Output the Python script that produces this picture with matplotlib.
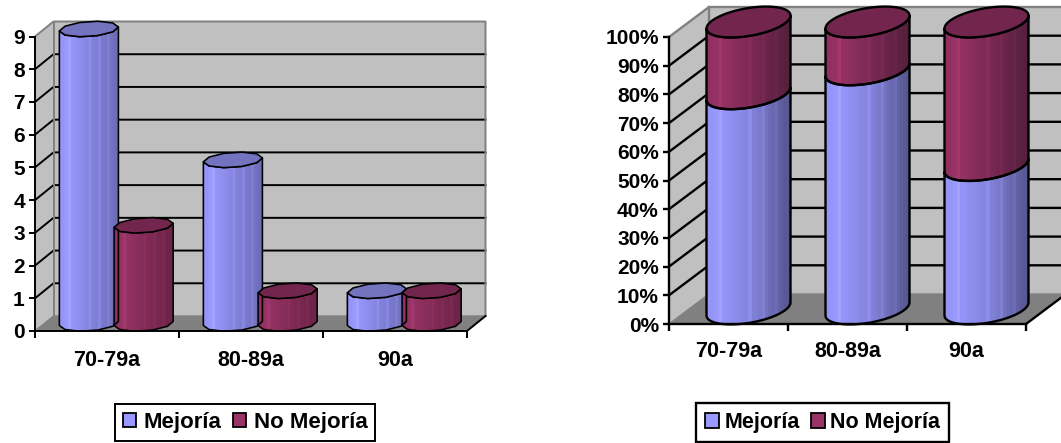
import numpy as np
import matplotlib
matplotlib.use("Agg")
import matplotlib.pyplot as plt
from matplotlib.colors import to_rgb
from matplotlib.patches import Patch, Polygon

plt.rcParams['font.family'] = ['Liberation Sans', 'DejaVu Sans']
plt.rcParams['font.weight'] = 'bold'

W, H = 1061, 443

categories = ['70-79a', '80-89a', '90a']
mejoria = [9, 5, 1]
no_mejoria = [3, 1, 1]
counts_ticks = [0, 1, 2, 3, 4, 5, 6, 7, 8, 9]
pct_ticks = [0, 10, 20, 30, 40, 50, 60, 70, 80, 90, 100]
series_names = ['Mejoría', 'No Mejoría']

BLUE = ['#9494f4', '#9999ff', '#8080d6', '#6c6cb4']
BLUE_DARK = ['#9494f4', '#9999ff', '#7e7ed2', '#53538c']
RED = ['#8f2f5f', '#993366', '#7e2a54', '#692346']
RED_DARK = ['#8f2f5f', '#993366', '#752750', '#52203c']
BLUE_TOP = '#7373c0'
RED_TOP = '#73264d'


def make_axes(left, right, top, bottom):
    return plt.figure(1).add_axes([left / W, 1 - bottom / H, (right - left) / W, (bottom - top) / H])


def gradient(colors, bands=26):
    stops = [0, 0.15, 0.6, 1]
    pos = (np.arange(bands) + 0.5) / bands
    rgb = np.array([to_rgb(c) for c in colors])
    strip = np.stack([np.interp(pos, stops, rgb[:, i]) for i in range(3)], axis=1)
    # thin pale streaks in the shading
    strip[[4, 13, 17, 21]] = np.minimum(strip[[4, 13, 17, 21]] * 1.08, 1)
    return strip[np.newaxis, :, :]


def cylinder(ax, x, width, y0, y1, colors, sy, tilt, bulge, lw, segments, top_color=None):
    # side of the cylinder plus, when asked, the cap; tilt and bulge are in pixels
    t = np.linspace(np.pi, 2 * np.pi, segments // 2 + 1)
    half = width / 2
    arc_x = x + half * np.cos(t)
    arc_y = (bulge * np.sin(t) + tilt * np.cos(t)) * sy
    xs = np.r_[arc_x, arc_x[::-1]]
    ys = np.r_[y0 + arc_y, y1 + arc_y[::-1]]
    outline = Polygon(np.c_[xs, ys], closed=True, facecolor='none', edgecolor='black',
                      lw=lw, joinstyle='round', clip_on=False, zorder=5.1)
    ax.add_patch(outline)
    top_extent = y1 + (abs(tilt) + bulge) * sy
    bottom_extent = y0 - (abs(tilt) + bulge) * sy
    im = ax.imshow(gradient(colors), extent=[x - half, x + half, bottom_extent, top_extent],
                   aspect='auto', interpolation='nearest', zorder=5)
    # the shading has to run past the axes box, up into the depth of the chart
    im.set_clip_box(ax.figure.bbox)
    im.set_clip_path(outline)
    if top_color:
        t = np.linspace(0, 2 * np.pi, segments + 1)
        cap = np.c_[x + half * np.cos(t), y1 + (bulge * np.sin(t) + tilt * np.cos(t)) * sy]
        ax.add_patch(Polygon(cap, closed=True, facecolor=top_color, edgecolor='black', lw=lw,
                             joinstyle='round', clip_on=False, zorder=5.2))


def draw_frame(ax, ticks, labels, xmax, ymax, ddx, ddy, lw, xpad):
    # back wall, side wall and floor of the box
    ax.fill([0, ddx, ddx, 0], [0, ddy, ymax + ddy, ymax], color='#c0c0c0', lw=0, clip_on=False, zorder=1)
    ax.fill([ddx, xmax + ddx, xmax + ddx, ddx], [ddy, ddy, ymax + ddy, ymax + ddy],
            color='#c0c0c0', lw=0, clip_on=False, zorder=1)
    ax.fill([0, xmax, xmax + ddx, ddx], [0, 0, ddy, ddy], color='#808080', lw=0, clip_on=False, zorder=1)
    for v in ticks[1:-1]:
        ax.plot([0, ddx, xmax + ddx], [v, v + ddy, v + ddy], color='black', lw=lw, clip_on=False, zorder=2)
    # grey outline of the walls
    ax.plot([0, ddx, xmax + ddx, xmax + ddx], [ymax, ymax + ddy, ymax + ddy, ddy],
            color='#808080', lw=lw, clip_on=False, zorder=2)
    ax.plot([ddx, ddx], [ddy, ymax + ddy], color='#808080', lw=lw, clip_on=False, zorder=2)
    ax.plot([0, ddx, xmax + ddx], [0, ddy, ddy], color='#808080', lw=1, clip_on=False, zorder=2)
    ax.plot([xmax, xmax + ddx], [0, ddy], color='black', lw=lw, clip_on=False, zorder=3)

    ax.set_yticks(ticks, labels)
    ax.set_xticks(np.arange(len(categories) + 1), [])
    ax.set_xticks(np.arange(len(categories)) + 0.5, categories, minor=True)
    ax.tick_params(axis='y', length=4.3, width=lw, pad=3, labelsize=15)
    ax.tick_params(axis='x', which='major', length=5, width=lw)
    ax.tick_params(axis='x', which='minor', length=0, labelsize=15.5, pad=xpad)
    ax.spines[['top', 'right']].set_visible(False)
    ax.spines[['left', 'bottom']].set_linewidth(lw)
    ax.spines[['left', 'bottom']].set_zorder(6)
    ax.patch.set_visible(False)
    ax.set_xlim(0, xmax)
    ax.set_ylim(0, ymax)


fig = plt.figure(1, figsize=(W / 100, H / 100), dpi=100, facecolor='white')

# left chart: counts, clustered cylinders
ax1 = make_axes(35, 467, 36.5, 331)
sx1 = 3 / 432
sy1 = 9 / 294.5
ddx1, ddy1 = 18.5 * sx1, 15 * sy1
draw_frame(ax1, counts_ticks, [str(v) for v in counts_ticks], 3, 9, ddx1, ddy1, 1.4, 14)
for i in range(len(categories)):
    base = 7.5 * sy1
    x = i + ddx1 / 2
    cylinder(ax1, x + 0.31, 0.41, base, base + mejoria[i], BLUE, sy1, 2, 7.5, 1.15, 10, BLUE_TOP)
    cylinder(ax1, x + 0.69, 0.41, base, base + no_mejoria[i], RED, sy1, 2, 7.5, 1.15, 10, RED_TOP)
ax1.set_xlim(0, 3)
ax1.set_ylim(0, 9)

# right chart: share of each outcome, 100% stacked cylinders
ax2 = make_axes(669, 1026, 37, 324)
sx2 = 3 / 357
sy2 = 100 / 287
ddx2, ddy2 = 40 * sx2, 30 * sy2
draw_frame(ax2, pct_ticks, [f'{v}%' for v in pct_ticks], 3, 100, ddx2, ddy2, 1.7, 12)
for i in range(len(categories)):
    share = 100 * mejoria[i] / (mejoria[i] + no_mejoria[i])
    base = 15 * sy2
    x = i + 0.5 + ddx2 / 2
    cylinder(ax2, x, 0.706, base, base + share, BLUE_DARK, sy2, 6.5, 14, 1.7, 60)
    cylinder(ax2, x, 0.706, base + share, base + 100, RED_DARK, sy2, 6.5, 14, 1.7, 60, RED_TOP)
ax2.set_xlim(0, 3)
ax2.set_ylim(0, 100)

handles = [Patch(facecolor='#9999ff', edgecolor='black', lw=1.3),
           Patch(facecolor='#993366', edgecolor='black', lw=1.3)]

leg1 = fig.legend(handles, series_names, ncol=2, loc='center', bbox_to_anchor=(245 / W, 1 - 422.5 / H),
                  fontsize=16, frameon=True, fancybox=False, framealpha=1, edgecolor='black',
                  handlelength=0.58, handleheight=0.6, handletextpad=0.36, columnspacing=0.5,
                  borderpad=0.36, borderaxespad=0)
leg1.get_frame().set_linewidth(1.4)

leg2 = fig.legend(handles, series_names, ncol=2, loc='center', bbox_to_anchor=(822.5 / W, 1 - 422.5 / H),
                  fontsize=15.5, frameon=True, fancybox=False, framealpha=1, edgecolor='black',
                  handlelength=0.65, handleheight=0.65, handletextpad=0.24, columnspacing=0.5,
                  borderpad=0.43, borderaxespad=0)
leg2.get_frame().set_linewidth(1.7)

fig.savefig('out.png', dpi=100)
